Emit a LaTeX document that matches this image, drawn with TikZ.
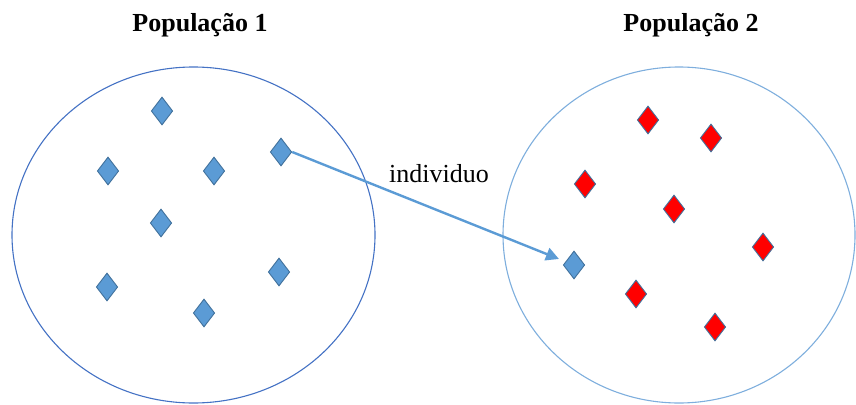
\documentclass[tikz,border=0pt]{standalone}
\usepackage{fontspec}
\setmainfont{Liberation Serif}
\usetikzlibrary{shapes.geometric,arrows.meta}
\definecolor{popA}{HTML}{4472C4}
\definecolor{popB}{HTML}{7EAEDD}
\definecolor{gemfill}{HTML}{5B9BD5}
\definecolor{gemedge}{HTML}{41719C}
\definecolor{linkcol}{HTML}{5B9BD5}
\tikzset{
  gem/.style={diamond, draw=gemedge, line width=0.9pt, fill=gemfill,
    inner sep=0pt, minimum width=21.5pt, minimum height=28pt},
  redgem/.style={gem, fill=red},
  title/.style={font=\fontsize{26}{30}\selectfont\bfseries, anchor=base},
  tag/.style={font=\fontsize{26}{30}\selectfont, anchor=base},
  link/.style={draw=linkcol, line width=2.4pt,
    -{Triangle[length=13pt,width=13pt]}, shorten >=7pt}
}
\begin{document}
\begin{tikzpicture}[x=1pt,y=-1pt]
  \useasboundingbox (0,0) rectangle (856,404);
  % the two populations
  \draw[popA, line width=1.1pt] (193.5,235) ellipse [x radius=181.5pt, y radius=168pt];
  \draw[popB, line width=1.1pt] (679,235) ellipse [x radius=176pt, y radius=168pt];
  \node[title] (t1) at (200,32) {População 1};
  \node[title] (t2) at (691,32) {População 2};
  % members of population 1
  \node[gem] (a1) at (162,111) {};
  \node[gem] (a2) at (108,171) {};
  \node[gem] (a3) at (214,171) {};
  \node[gem] (a4) at (281,152) {};
  \node[gem] (a5) at (161,223) {};
  \node[gem] (a6) at (107,287) {};
  \node[gem] (a7) at (279,272) {};
  \node[gem] (a8) at (204,313) {};
  % members of population 2
  \node[redgem] (b1) at (648,120) {};
  \node[redgem] (b2) at (711,138) {};
  \node[redgem] (b3) at (585,184) {};
  \node[redgem] (b4) at (674,209) {};
  \node[redgem] (b5) at (763,247) {};
  \node[redgem] (b6) at (636,294) {};
  \node[redgem] (b7) at (715,327) {};
  % migrated individual
  \node[gem] (m) at (574,265) {};
  \draw[link] (a4.east) -- (m);
  \node[tag] (lbl) at (439,182) {individuo};
\end{tikzpicture}
\end{document}
